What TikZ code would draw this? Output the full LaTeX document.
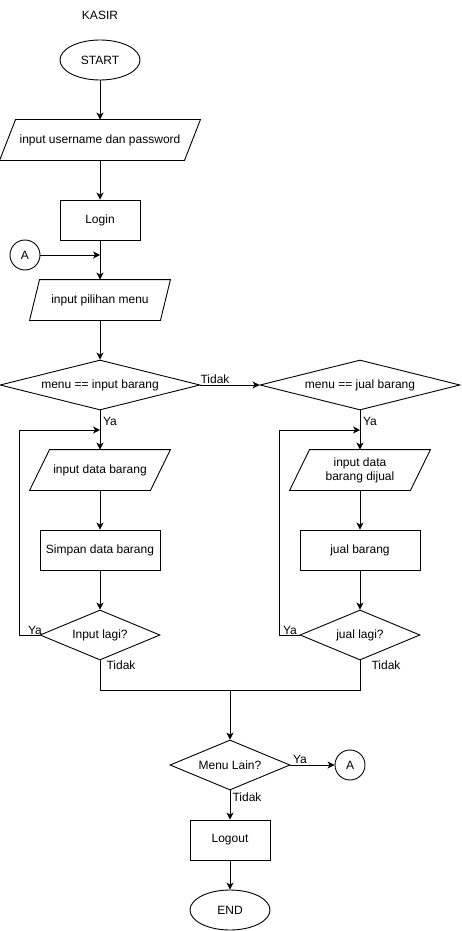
\documentclass[tikz,border=0pt]{standalone}
\usepackage{fontspec}
\setmainfont{Liberation Sans}
\usetikzlibrary{shapes.geometric,arrows.meta}
\begin{document}
\begin{tikzpicture}[x=1pt,y=-1pt,
  font=\fontsize{12}{14}\selectfont, line width=0.9pt,
  every node/.style={inner sep=0pt},
  term/.style={ellipse,draw,minimum width=80pt,minimum height=40pt},
  proc/.style={rectangle,draw,minimum height=40pt},
  iobox/.style={rectangle,minimum height=40pt,align=center},
  bigdec/.style={diamond,draw,aspect=4,minimum width=200pt,minimum height=50pt},
  smalldec/.style={diamond,draw,aspect=2.4,minimum width=120pt,minimum height=50pt},
  conn/.style={circle,draw,minimum size=30pt},
  lbl/.style={inner sep=0pt},
  arr/.style={-{Stealth[length=7pt,width=7pt,inset=2pt]}}]
\useasboundingbox (0,0) rectangle (461,931);

\node (kasir) at (100,15) {KASIR};
\node[term] (start) at (100,60) {START};
\node[iobox,minimum width=200pt] (in1) at (100,140) {input username dan password};
\node[proc,minimum width=80pt] (login) at (100,220) {Login};
\node[conn] (a1) at (25,255) {A};
\coordinate (ja) at (100,255);
\node[iobox,minimum width=140pt] (in2) at (100,300) {input pilihan menu};
\node[bigdec] (d1) at (100,385) {menu == input barang};
\node[bigdec] (d2) at (360,385) {menu == jual barang};
\coordinate (j1) at (100,430);
\coordinate (j2) at (360,430);
\node[iobox,minimum width=140pt] (in3) at (100,470) {input data barang};
\node[iobox,minimum width=140pt] (in4) at (360,470) {input data\\barang dijual};
\node[proc,minimum width=120pt] (s1) at (100,550) {Simpan data barang};
\node[proc,minimum width=120pt] (s2) at (360,550) {jual barang};
\node[smalldec] (d3) at (100,635) {Input lagi?};
\node[smalldec] (d4) at (360,635) {jual lagi?};
\coordinate (m) at (230,690);
\node[smalldec] (d5) at (230,765) {Menu Lain?};
\node[conn] (a2) at (350,765) {A};
\node[proc,minimum width=80pt] (logout) at (230,840) {Logout};
\node[term] (end) at (230,910) {END};

% parallelograms
\draw ([xshift=16pt]in1.north west) -- (in1.north east) -- ([xshift=-16pt]in1.south east) -- (in1.south west) -- cycle;
\draw ([xshift=10pt]in2.north west) -- (in2.north east) -- ([xshift=-10pt]in2.south east) -- (in2.south west) -- cycle;
\draw ([xshift=20pt]in3.north west) -- (in3.north east) -- ([xshift=-20pt]in3.south east) -- (in3.south west) -- cycle;
\draw ([xshift=20pt]in4.north west) -- (in4.north east) -- ([xshift=-20pt]in4.south east) -- (in4.south west) -- cycle;

% connectors
\draw[arr] (start) -- (in1);
\draw[arr] (in1) -- (login);
\draw[arr] (login) -- (in2);
\draw[arr] (a1) -- (ja);
\draw[arr] (in2) -- (d1);
\draw[arr] (d1.east) -- (d2.west);
\draw[arr] (d1.south) -- (in3.north);
\draw[arr] (in3) -- (s1);
\draw[arr] (s1) -- (d3);
\draw[arr] (d3.west) -- ++(-20,0) |- (j1);
\draw[arr] (d2.south) -- (in4.north);
\draw[arr] (in4) -- (s2);
\draw[arr] (s2) -- (d4);
\draw[arr] (d4.west) -- ++(-20,0) |- (j2);
\draw (d3.south) |- (m);
\draw (d4.south) |- (m);
\draw[arr] (m) -- (d5.north);
\draw[arr] (d5.east) -- (a2.west);
\draw[arr] (d5.south) -- (logout.north);
\draw[arr] (logout) -- (end);

% labels
\node[lbl] (t1) at (215,379) {Tidak};
\node[lbl] (y1) at (110,421) {Ya};
\node[lbl] (y2) at (370,421) {Ya};
\node[lbl] (y3) at (35,630) {Ya};
\node[lbl] (y4) at (290,630) {Ya};
\node[lbl] (t2) at (121,665) {Tidak};
\node[lbl] (t3) at (386,665) {Tidak};
\node[lbl] (y5) at (300,759) {Ya};
\node[lbl] (t4) at (247,797) {Tidak};
\end{tikzpicture}
\end{document}
